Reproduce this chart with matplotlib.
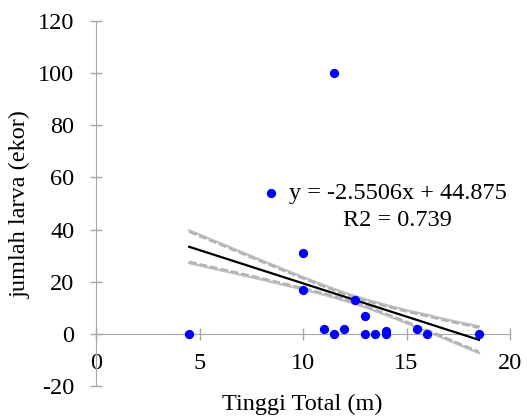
import numpy as np
import matplotlib.pyplot as plt
import matplotlib.transforms as mtransforms

plt.rcParams['font.family'] = ['Liberation Serif', 'DejaVu Serif']
plt.rcParams['axes.unicode_minus'] = False

# data points
tinggi = [4.5, 11.5, 10, 10, 11, 11.5, 12, 12.5, 13, 13, 13.5, 14, 14, 15.5, 16, 18.5]
larva = [0, 100, 31, 17, 2, 0, 2, 13, 7, 0, 0, 1, 0, 2, 0, 0]

# regression line given on the chart
slope = -2.5506
intercept = 44.875

# confidence bands
band_x = [4.5, 6, 8, 10, 11, 12, 13, 14, 15, 16, 17, 18.5]
band_up = [39.7, 34.8, 28.2, 21.8, 18.7, 15.8, 13.3, 11.1, 9.1, 7.3, 5.4, 2.9]
band_lo = [27.1, 24.4, 20.8, 17.0, 15.0, 12.7, 10.2, 7.2, 4.1, 0.9, -2.4, -7.4]

fs = 17.5

fig = plt.figure(figsize=(5.27, 4.18), dpi=100)
ax = fig.add_axes([96 / 527, 1 - 386 / 418, (510 - 96) / 527, (386 - 21) / 418])

axis_col = '#a6a6a6'

# bands: solid light line with a dashed twin just inside it
for b, off in ((band_up, -1.6), (band_lo, 1.6)):
    ax.plot(band_x, b, color='#bebebe', lw=1.6, zorder=2)
    tr = mtransforms.offset_copy(ax.transData, fig=fig, y=off, units='dots')
    ax.plot(band_x, b, color='#b0b0b0', lw=1.4, ls=(0, (4, 1.5)),
            transform=tr, zorder=2)

xl = np.array([min(tinggi), max(tinggi)])
ax.plot(xl, slope * xl + intercept, color='black', lw=1.6, zorder=3)

ax.scatter(tinggi, larva, s=32, color='#0000ff', zorder=4,
           label='y = -2.5506x + 44.875')

ax.set_xlim(0, 20)
ax.set_ylim(-20, 120)
ax.set_xticks([0, 5, 10, 15, 20])
ax.set_yticks([-20, 0, 20, 40, 60, 80, 100, 120])

for s in ('top', 'right'):
    ax.spines[s].set_visible(False)
ax.spines['left'].set_position(('data', 0))
ax.spines['bottom'].set_position(('data', 0))
ax.spines['left'].set_color(axis_col)
ax.spines['bottom'].set_color(axis_col)
ax.tick_params(direction='inout', length=9, width=1, color=axis_col,
               labelsize=fs, labelcolor='black')
ax.tick_params(axis='y', pad=11)
ax.tick_params(axis='x', pad=9)

fig.text(302 / 527, 1 - 404 / 418, 'Tinggi Total (m)', fontsize=fs,
         ha='center', va='center')
fig.text(20 / 527, 1 - 204 / 418, 'jumlah larva (ekor)', fontsize=fs,
         ha='center', va='center', rotation=90)

leg = ax.legend(loc='center left', bbox_to_anchor=(265 / 527, 1 - 193 / 418),
                bbox_transform=fig.transFigure, frameon=False, fontsize=fs,
                handletextpad=0.5, borderpad=0, borderaxespad=0,
                handlelength=0.5)
fig.text(397 / 527, 1 - 220 / 418, 'R2 = 0.739', fontsize=fs,
         ha='center', va='center')

fig.savefig('out.png', dpi=100)
